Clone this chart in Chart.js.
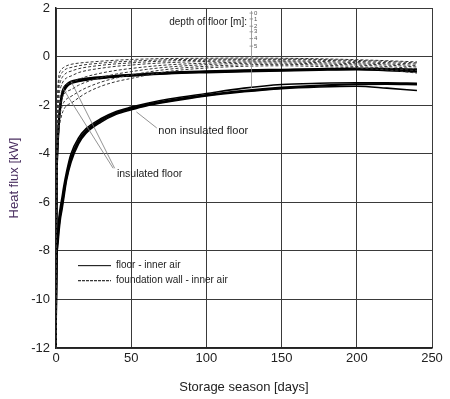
<!DOCTYPE html>
<html>
<head>
<meta charset="utf-8">
<script src="https://cdn.jsdelivr.net/npm/chart.js@4"></script>
<style>
  html, body { margin: 0; padding: 0; background: #fff; }
</style>
</head>
<body>
<canvas id="heatChart" width="450" height="399"></canvas>
<script>
// storage day at which every curve was read
const days = [0, 0.5, 1, 2, 3, 4, 5, 7, 10, 15, 20, 30, 40, 50, 60, 75, 100, 125, 150, 175, 200, 220, 240];

// foundation wall - inner air (dashed), kW
const wall1 = [-12, -2.5, -1.4, -0.75, -0.58, -0.5, -0.45, -0.38, -0.32, -0.27, -0.24, -0.19, -0.15, -0.12, -0.1, -0.08, -0.07, -0.06, -0.07, -0.09, -0.13, -0.17, -0.22];
const wall2 = [-12, -3.0, -1.8, -1.0, -0.78, -0.66, -0.59, -0.5, -0.45, -0.38, -0.33, -0.27, -0.22, -0.19, -0.16, -0.13, -0.11, -0.1, -0.1, -0.12, -0.16, -0.2, -0.26];
const wall3 = [-12, -3.5, -2.2, -1.3, -1.02, -0.87, -0.78, -0.67, -0.6, -0.5, -0.44, -0.36, -0.3, -0.26, -0.22, -0.18, -0.15, -0.13, -0.13, -0.15, -0.2, -0.25, -0.31];
const wall4 = [-12, -4.0, -2.6, -1.6, -1.3, -1.12, -1.0, -0.88, -0.8, -0.66, -0.58, -0.48, -0.4, -0.35, -0.3, -0.25, -0.2, -0.18, -0.18, -0.2, -0.25, -0.3, -0.37];
const wall5 = [-12, -4.5, -3.0, -1.95, -1.6, -1.4, -1.27, -1.15, -1.08, -0.94, -0.83, -0.68, -0.57, -0.49, -0.42, -0.34, -0.27, -0.23, -0.22, -0.25, -0.3, -0.35, -0.43];
const wall6 = [-12, -5.0, -3.4, -2.3, -1.92, -1.72, -1.58, -1.45, -1.36, -1.18, -1.05, -0.86, -0.72, -0.62, -0.53, -0.43, -0.33, -0.28, -0.27, -0.3, -0.35, -0.41, -0.5];
const wall7 = [-12, -5.5, -3.8, -2.65, -2.28, -2.05, -1.9, -1.75, -1.64, -1.45, -1.29, -1.05, -0.88, -0.76, -0.65, -0.52, -0.4, -0.34, -0.32, -0.35, -0.41, -0.48, -0.58];
const wall8 = [-12, -6.0, -4.2, -3.0, -2.62, -2.36, -2.2, -2.02, -1.92, -1.7, -1.5, -1.22, -1.03, -0.9, -0.77, -0.61, -0.47, -0.4, -0.38, -0.41, -0.47, -0.55, -0.68];

// floor - inner air, insulated floor (solid), kW
const insul1 = [-12, -4.6, -3.5, -2.4, -1.8, -1.48, -1.3, -1.14, -1.02, -0.94, -0.89, -0.83, -0.78, -0.74, -0.7, -0.65, -0.6, -0.56, -0.53, -0.5, -0.48, -0.49, -0.52];
const insul2 = [-12, -4.9, -3.7, -2.55, -1.9, -1.55, -1.36, -1.18, -1.05, -0.97, -0.92, -0.86, -0.8, -0.76, -0.72, -0.67, -0.62, -0.58, -0.55, -0.52, -0.5, -0.52, -0.55];
const insul3 = [-12, -5.2, -3.9, -2.7, -2.0, -1.62, -1.42, -1.22, -1.08, -1.0, -0.95, -0.88, -0.82, -0.78, -0.74, -0.69, -0.64, -0.6, -0.57, -0.54, -0.52, -0.55, -0.59];
const insul4 = [-12, -5.5, -4.1, -2.85, -2.1, -1.7, -1.48, -1.26, -1.11, -1.03, -0.97, -0.9, -0.84, -0.8, -0.76, -0.71, -0.66, -0.62, -0.59, -0.56, -0.54, -0.58, -0.63];

// floor - inner air, non insulated floor (solid), kW
const bare1 = [-12, -7.7, -7.3, -6.6, -6.15, -5.8, -5.4, -4.75, -4.0, -3.35, -2.97, -2.55, -2.26, -2.08, -1.93, -1.75, -1.52, -1.3, -1.15, -1.1, -1.08, -1.08, -1.1];
const bare2 = [-12, -7.9, -7.5, -6.8, -6.35, -6.0, -5.6, -4.9, -4.15, -3.45, -3.05, -2.6, -2.3, -2.12, -1.97, -1.8, -1.57, -1.4, -1.27, -1.18, -1.13, -1.12, -1.13];
const bare3 = [-12, -8.1, -7.7, -7.0, -6.5, -6.15, -5.75, -5.0, -4.25, -3.52, -3.1, -2.65, -2.34, -2.15, -2.0, -1.83, -1.6, -1.43, -1.3, -1.21, -1.15, -1.14, -1.16];
const bare4 = [-12, -8.3, -7.9, -7.2, -6.65, -6.3, -5.9, -5.1, -4.35, -3.6, -3.16, -2.7, -2.38, -2.19, -2.03, -1.86, -1.62, -1.45, -1.32, -1.25, -1.22, -1.3, -1.4];

const depthLabels = ["0", "1", "2", "3", "4", "5"];
const legendLabels = ["floor - inner air", "foundation wall - inner air"];

const FONT = '"Liberation Sans", Arial, sans-serif';

/* ---------------- DATASETS ---------------- */
function toPoints(values) {
  return values.map((v, i) => ({ x: days[i], y: v }));
}

function wallSet(values) {
  return {
    data: toPoints(values),
    borderColor: "#333",
    borderWidth: 1,
    borderDash: [3, 2],
    pointRadius: 0,
    cubicInterpolationMode: "monotone"
  };
}

function floorSet(values) {
  return {
    data: toPoints(values),
    borderColor: "#000",
    borderWidth: 1.6,
    pointRadius: 0,
    cubicInterpolationMode: "monotone"
  };
}

const datasets = [
  ...[wall1, wall2, wall3, wall4, wall5, wall6, wall7, wall8].map(wallSet),
  ...[insul1, insul2, insul3, insul4].map(floorSet),
  ...[bare1, bare2, bare3, bare4].map(floorSet)
];

/* ---------------- ANNOTATIONS ---------------- */
const annotate = {
  id: "annotate",
  afterDatasetsDraw(c) {
    const { ctx, chartArea: a } = c;
    const px = v => c.scales.x.getPixelForValue(v);
    const py = v => c.scales.y.getPixelForValue(v);

    ctx.save();
    // leader lines
    ctx.strokeStyle = "#777";
    ctx.lineWidth = 0.8;
    [[53.5, -2.28, 67, -2.94], [10, -1.02, 39, -4.6], [4.5, -1.3, 38, -4.6]].forEach(l => {
      ctx.beginPath();
      ctx.moveTo(px(l[0]), py(l[1]));
      ctx.lineTo(px(l[2]), py(l[3]));
      ctx.stroke();
    });

    ctx.fillStyle = "#222";
    ctx.textBaseline = "middle";
    ctx.font = "11px " + FONT;
    ctx.fillText("non insulated floor", px(68), py(-3.06));
    ctx.font = "10.5px " + FONT;
    ctx.fillText("insulated floor", px(40.5), py(-4.82));

    // depth of floor mini scale
    ctx.font = "10px " + FONT;
    ctx.textAlign = "right";
    ctx.fillText("depth of floor [m]:", px(127), py(1.4));
    ctx.strokeStyle = "#888";
    ctx.lineWidth = 0.8;
    ctx.beginPath();
    ctx.moveTo(px(130), py(1.88));
    ctx.lineTo(px(130), py(-1.3));
    ctx.stroke();
    ctx.textAlign = "left";
    ctx.font = "6px " + FONT;
    ctx.fillStyle = "#555";
    const depthY = [1.79, 1.55, 1.25, 1.02, 0.74, 0.43];
    depthLabels.forEach((t, i) => {
      const yy = py(depthY[i]);
      ctx.beginPath();
      ctx.moveTo(px(130) - 2, yy);
      ctx.lineTo(px(130) + 1.5, yy);
      ctx.stroke();
      ctx.fillText(t, px(130) + 2.5, yy);
    });

    // legend
    ctx.font = "10px " + FONT;
    ctx.fillStyle = "#222";
    const lx = a.left + 22;
    [[-8.61, []], [-9.23, [3, 1]]].forEach((row, i) => {
      const yy = py(row[0]);
      ctx.strokeStyle = "#000";
      ctx.lineWidth = 1;
      ctx.setLineDash(row[1]);
      ctx.beginPath();
      ctx.moveTo(lx, yy);
      ctx.lineTo(lx + 33, yy);
      ctx.stroke();
      ctx.setLineDash([]);
      ctx.fillText(legendLabels[i], lx + 38, yy);
    });
    ctx.restore();
  }
};

/* ---------------- CHART ---------------- */
new Chart(heatChart, {
  type: "line",
  data: { datasets },
  options: {
    responsive: false,
    animation: false,
    devicePixelRatio: 1,
    layout: { padding: { top: 8, right: 18, left: 0, bottom: 0 } },
    plugins: { legend: { display: false }, tooltip: { enabled: false } },
    scales: {
      x: {
        type: "linear",
        min: 0,
        max: 250,
        afterFit: s => { s.height = 51; },
        ticks: { stepSize: 50, color: "#222", font: { size: 13, family: FONT }, padding: 3 },
        grid: { color: "#3a3a3a", lineWidth: 1, drawTicks: false },
        border: { color: "#222", width: 1.5 },
        title: { display: true, text: "Storage season [days]", color: "#222", font: { size: 13, family: FONT }, padding: { top: 0 } }
      },
      y: {
        min: -12,
        max: 2,
        afterFit: s => { s.width = 56; },
        ticks: { stepSize: 2, color: "#222", font: { size: 13, family: FONT }, padding: 0 },
        grid: { color: "#3a3a3a", lineWidth: 1, drawTicks: true, tickLength: 6, tickColor: "rgba(0,0,0,0)" },
        border: { color: "#222", width: 1.5 },
        title: { display: true, text: "Heat flux [kW]", color: "#4a2f60", font: { size: 13, family: FONT }, padding: { top: 7, bottom: 0 } }
      }
    }
  },
  plugins: [annotate]
});
</script>
</body>
</html>
